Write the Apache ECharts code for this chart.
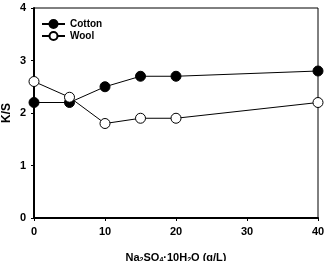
<!DOCTYPE html>
<html><head><meta charset="utf-8">
<script src="https://cdn.jsdelivr.net/npm/echarts@6/dist/echarts.min.js"></script>
<style>html,body{margin:0;padding:0;background:#fff}#c{width:324px;height:261px}</style>
</head><body><div id="c"></div>
<script>
const xValues = [0, 5, 10, 15, 20, 40];
const cotton = [2.2, 2.2, 2.5, 2.7, 2.7, 2.8];
const wool = [2.6, 2.3, 1.8, 1.9, 1.9, 2.2];
const xTicks = [0, 10, 20, 30, 40];
const yTicks = [0, 1, 2, 3, 4];
const yTitle = 'K/S';

const font = 'Liberation Sans, Arial, sans-serif';
const chart = echarts.init(document.getElementById('c'), null, {renderer: 'canvas'});
chart.setOption({
  animation: false,
  backgroundColor: '#fff',
  grid: {left: 34, right: 6, top: 8, bottom: 43, show: true, borderColor: '#000', borderWidth: 1,
    containLabel: false, outerBoundsMode: 'none'},
  legend: {
    left: 41, top: 19, orient: 'vertical', itemGap: 2, itemWidth: 23, itemHeight: 10, padding: 0,
    textStyle: {fontFamily: font, fontWeight: 'bold', fontSize: 10, color: '#000'},
    data: ['Cotton', 'Wool']
  },
  graphic: [{
    type: 'text', x: 7, y: 113, rotation: Math.PI / 2,
    style: {text: yTitle, fontFamily: font, fontWeight: 'bold', fontSize: 12, fill: '#000',
      align: 'center', verticalAlign: 'middle'}
  }],
  xAxis: {
    type: 'value', min: 0, max: 40, interval: 10,
    axisLine: {show: true, lineStyle: {color: '#000', width: 2}},
    axisTick: {show: true, inside: false, length: 3, lineStyle: {color: '#000'}},
    axisLabel: {fontFamily: font, fontWeight: 'bold', fontSize: 11, color: '#000', margin: 8,
      formatter: v => xTicks.includes(v) ? String(v) : ''},
    splitLine: {show: false},
    name: '{n|Na}{s|2}{n|SO}{s|4}{n|·10H}{s|2}{n|O (g/L)}',
    nameLocation: 'middle', nameGap: 33, nameMoveOverlap: false,
    nameTextStyle: {rich: {
      n: {fontFamily: font, fontWeight: 'bold', fontSize: 11, color: '#000'},
      s: {fontFamily: font, fontWeight: 'bold', fontSize: 7, color: '#000', verticalAlign: 'bottom', padding: [6, 0, 0, 0]}
    }}
  },
  yAxis: {
    type: 'value', min: 0, max: 4, interval: 1,
    axisLine: {show: true, lineStyle: {color: '#000', width: 2}},
    axisTick: {show: true, inside: false, length: 3, lineStyle: {color: '#000'}},
    axisLabel: {fontFamily: font, fontWeight: 'bold', fontSize: 11, color: '#000', margin: 8,
      formatter: v => yTicks.includes(v) ? String(v) : ''},
    splitLine: {show: false}
  },
  series: [
    {name: 'Cotton', type: 'line', data: xValues.map((x, i) => [x, cotton[i]]),
      symbol: 'circle', symbolSize: 10,
      lineStyle: {color: '#000', width: 1},
      itemStyle: {color: '#000', borderColor: '#000', borderWidth: 1}},
    {name: 'Wool', type: 'line', data: xValues.map((x, i) => [x, wool[i]]),
      symbol: 'circle', symbolSize: 10,
      lineStyle: {color: '#000', width: 1},
      itemStyle: {color: '#fff', borderColor: '#000', borderWidth: 1}}
  ]
});
</script></body></html>
